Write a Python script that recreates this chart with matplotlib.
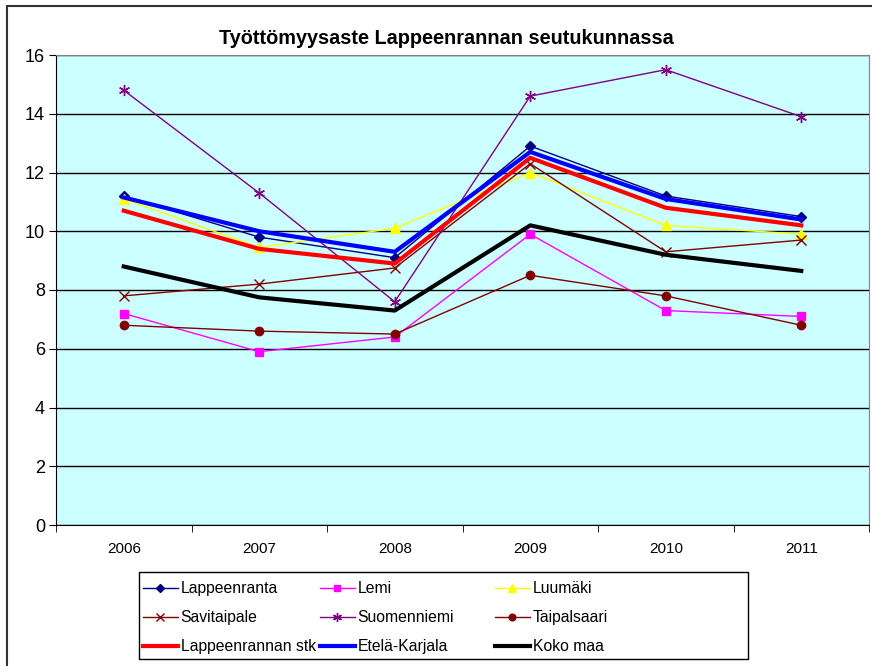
import matplotlib
matplotlib.use('Agg')
import matplotlib.pyplot as plt
from matplotlib.patches import Rectangle

plt.rcParams['font.family'] = ['Liberation Sans', 'DejaVu Sans']

# data
years = ['2006', '2007', '2008', '2009', '2010', '2011']
lappeenranta = [11.2, 9.8, 9.1, 12.9, 11.2, 10.5]
lemi = [7.2, 5.9, 6.4, 9.9, 7.3, 7.1]
luumaki = [11.1, 9.45, 10.1, 12.0, 10.2, 9.9]
savitaipale = [7.8, 8.2, 8.75, 12.3, 9.3, 9.7]
suomenniemi = [14.8, 11.3, 7.6, 14.6, 15.5, 13.9]
taipalsaari = [6.8, 6.6, 6.5, 8.5, 7.8, 6.8]
lpr_stk = [10.7, 9.4, 8.9, 12.5, 10.8, 10.2]
etela_karjala = [11.15, 10.0, 9.3, 12.7, 11.1, 10.4]
koko_maa = [8.8, 7.75, 7.3, 10.2, 9.2, 8.65]

W, H = 872, 666
fig = plt.figure(figsize=(W / 100, H / 100), dpi=100)

# outer chart border (partly cut off at right/bottom like the original)
fig.patches.append(Rectangle((7 / W, -0.05), 1.0, 1 - 6 / H + 0.05,
                             transform=fig.transFigure, fill=False,
                             edgecolor='#333333', linewidth=1.5, clip_on=False))

ax = fig.add_axes([56 / W, 141 / H, 813 / W, 470 / H])
ax.set_facecolor('#CCFFFF')

x = list(range(len(years)))
thin = 1.0
series = [
    ('Lappeenranta', lappeenranta, dict(color='#000080', lw=thin, marker='D', ms=5)),
    ('Lemi', lemi, dict(color='#FF00FF', lw=thin, marker='s', ms=6)),
    ('Luumäki', luumaki, dict(color='#FFFF00', lw=thin, marker='^', ms=7)),
    ('Savitaipale', savitaipale, dict(color='#800000', lw=thin, marker='x', ms=7, mew=1)),
    ('Suomenniemi', suomenniemi, dict(color='#800080', lw=thin, marker=(6, 2, 0), ms=8, mew=1)),
    ('Taipalsaari', taipalsaari, dict(color='#800000', lw=thin, marker='o', ms=6)),
    ('Lappeenrannan stk', lpr_stk, dict(color='#FF0000', lw=3)),
    ('Etelä-Karjala', etela_karjala, dict(color='#0000FF', lw=3)),
    ('Koko maa', koko_maa, dict(color='#000000', lw=3)),
]

handles = {}
for name, vals, style in series:
    h, = ax.plot(x, vals, label=name, **style)
    handles[name] = h

ax.set_xlim(-0.5, 5.5)
ax.set_ylim(0, 16)
ax.set_yticks(range(0, 17, 2))
ax.yaxis.grid(True, color='black', linewidth=1)
ax.set_axisbelow(True)

ax.set_xticks(x)
ax.set_xticklabels(years, fontsize=11)
ax.set_xticks([i - 0.5 for i in range(7)], minor=True)
ax.tick_params(axis='x', which='major', length=0, pad=12)
ax.tick_params(axis='x', which='minor', length=5, direction='out', color='black')
ax.tick_params(axis='y', length=5, direction='out', labelsize=13, pad=3)

for side in ['top', 'right']:
    ax.spines[side].set_color('#808080')
ax.spines['left'].set_color('black')
ax.spines['bottom'].set_color('black')

fig.text(446 / W, 1 - 38 / H, 'Työttömyysaste Lappeenrannan seutukunnassa',
         ha='center', va='center', fontsize=14.3, fontweight='bold')

# legend: frame drawn separately, one legend per column (row-wise order)
fig.patches.append(Rectangle((139 / W, 1 - 659 / H), 609 / W, 87 / H,
                             transform=fig.transFigure, fill=False,
                             edgecolor='black', linewidth=1))
columns = [
    (143, ['Lappeenranta', 'Savitaipale', 'Lappeenrannan stk']),
    (320, ['Lemi', 'Suomenniemi', 'Etelä-Karjala']),
    (495, ['Luumäki', 'Taipalsaari', 'Koko maa']),
]
for x0, names in columns:
    fig.legend([handles[n] for n in names], names, loc='upper left',
               bbox_to_anchor=(x0 / W, 1 - 581 / H), frameon=False,
               fontsize=11.3, handlelength=2.2, handletextpad=0.2,
               borderpad=0, borderaxespad=0, labelspacing=0.9,
               markerscale=0.8)

fig.savefig('out.png', dpi=100)
